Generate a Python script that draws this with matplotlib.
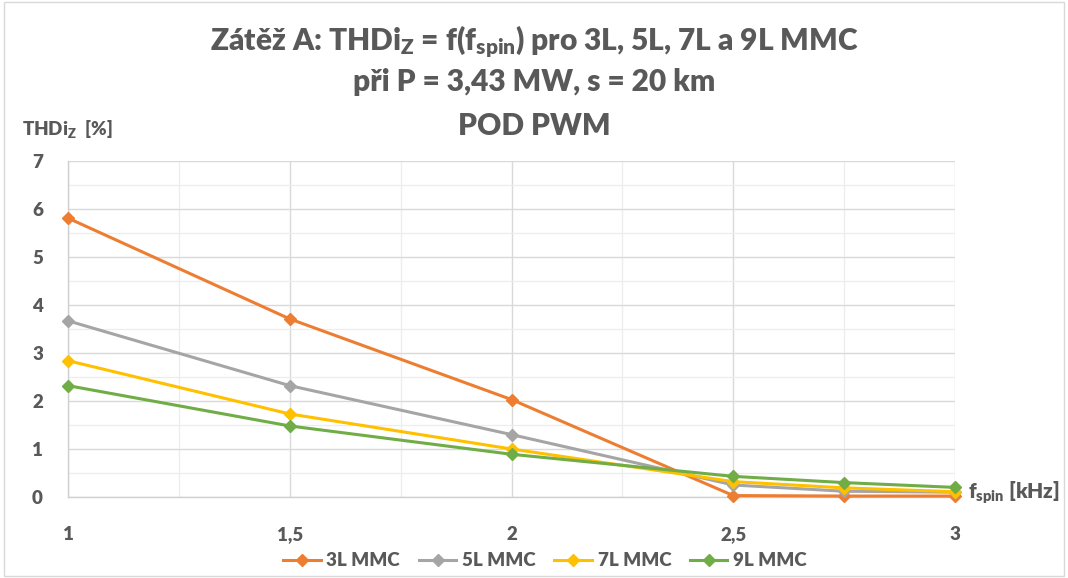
import matplotlib
matplotlib.use("Agg")
import matplotlib.pyplot as plt
from matplotlib.ticker import MultipleLocator, FixedLocator
from matplotlib.patches import Rectangle

plt.rcParams['font.family'] = ['Lato', 'DejaVu Sans']
plt.rcParams['mathtext.fontset'] = 'custom'
plt.rcParams['mathtext.rm'] = 'Lato:weight=800'
plt.rcParams['mathtext.bf'] = 'Lato:weight=800'

# switching frequency [kHz]
f_spin = [1, 1.5, 2, 2.5, 2.75, 3]
x_ticks = [1, 1.5, 2, 2.5, 3]
x_tick_labels = ["1", "1,5", "2", "2,5", "3"]

# THDi_Z [%]
thd_3L = [5.81, 3.71, 2.03, 0.03, 0.02, 0.02]
thd_5L = [3.67, 2.32, 1.30, 0.25, 0.12, 0.10]
thd_7L = [2.84, 1.73, 1.00, 0.32, 0.19, 0.11]
thd_9L = [2.32, 1.48, 0.89, 0.43, 0.30, 0.20]

series = [
    ("3L MMC", thd_3L, "#ED7D31"),
    ("5L MMC", thd_5L, "#A5A5A5"),
    ("7L MMC", thd_7L, "#FFC000"),
    ("9L MMC", thd_9L, "#70AD47"),
]

text_col = "#595959"
W = 800  # heavy weight for all labels

fig = plt.figure(figsize=(10.68, 5.78), dpi=100)
fig.patches.append(Rectangle((0.004, 0.004), 0.992, 0.992, transform=fig.transFigure,
                             fill=False, edgecolor="#D9D9D9", linewidth=1.0))
ax = fig.add_axes([68 / 1068, 1 - 497 / 578, (955 - 68) / 1068, (497 - 161) / 578])

for name, vals, col in series:
    ax.plot(f_spin, vals, color=col, linewidth=2.2, marker="D", markersize=6,
            label=name, clip_on=False, zorder=3)

ax.set_xlim(1, 3)
ax.set_ylim(0, 7)
ax.xaxis.set_major_locator(FixedLocator(x_ticks))
ax.set_xticklabels(x_tick_labels)
ax.xaxis.set_minor_locator(MultipleLocator(0.25))
ax.yaxis.set_major_locator(MultipleLocator(1))
ax.yaxis.set_minor_locator(MultipleLocator(0.5))

ax.grid(which="major", color="#D9D9D9", linewidth=1.0)
ax.grid(which="minor", color="#EDEDED", linewidth=0.9)
ax.set_axisbelow(True)
for s in ["top", "right"]:
    ax.spines[s].set_visible(False)
for s in ["left", "bottom"]:
    ax.spines[s].set_color("#D0D0D0")
    ax.spines[s].set_linewidth(1.0)

ax.tick_params(which="both", length=0)
ax.tick_params(axis="x", pad=21, labelsize=13.5, labelcolor=text_col)
ax.tick_params(axis="y", pad=18, labelsize=13.5, labelcolor=text_col)
for lab in ax.get_xticklabels() + ax.get_yticklabels():
    lab.set_fontweight(W)

title_kw = dict(ha="center", va="center", fontsize=21.5, fontweight=W, color=text_col)
fig.text(0.5, 1 - 42 / 578,
         r"Zátěž A: THDi$\mathregular{_Z}$ = f(f$\mathregular{_{spin}}$) pro 3L, 5L, 7L a 9L MMC",
         **title_kw)
fig.text(0.5, 1 - 82 / 578, "při P = 3,43 MW, s = 20 km", **title_kw)
fig.text(0.5, 1 - 126 / 578, "POD PWM", **title_kw)

fig.text(22 / 1068, 1 - 129 / 578, r"THDi$\mathregular{_Z}$  [%]",
         ha="left", va="center", fontsize=13.5, fontweight=W, color=text_col)
fig.text(968 / 1068, 1 - 493 / 578, r"f$\mathregular{_{spin}}$ [kHz]",
         ha="left", va="center", fontsize=15, fontweight=W, color=text_col)

leg = fig.legend(loc="center", bbox_to_anchor=(545 / 1068, 1 - 561 / 578), ncol=4,
                 frameon=False, fontsize=13.5, handlelength=2.0, columnspacing=1.0,
                 handletextpad=0.3)
for t in leg.get_texts():
    t.set_color(text_col)
    t.set_fontweight(W)

fig.savefig("out.png", dpi=100)
